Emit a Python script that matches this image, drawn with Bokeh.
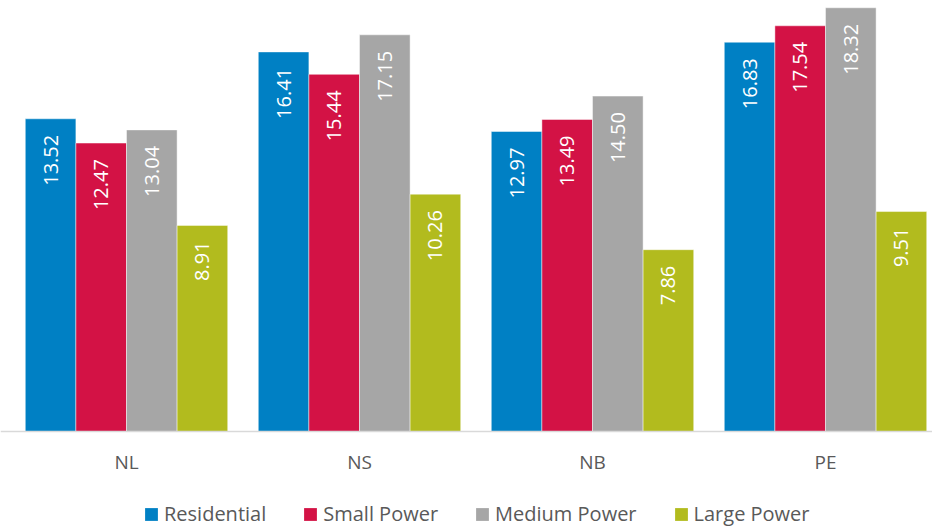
import math
from bokeh.plotting import figure
from bokeh.models import ColumnDataSource, Range1d, FixedTicker, Legend, LegendItem
from bokeh.core.properties import value
from bokeh.embed import file_html
from bokeh.resources import INLINE

categories = ["NL", "NS", "NB", "PE"]
series_names = ["Residential", "Small Power", "Medium Power", "Large Power"]
residential = [13.52, 16.41, 12.97, 16.83]
small_power = [12.47, 15.44, 13.49, 17.54]
medium_power = [13.04, 17.15, 14.50, 18.32]
large_power = [8.91, 10.26, 7.86, 9.51]
colors = ["#0080C4", "#D31245", "#A6A6A6", "#B2BB1E"]

series_values = [residential, small_power, medium_power, large_power]

FONT = "Open Sans"
BAR_W = 0.2172

p = figure(width=932, height=529, output_backend="svg", toolbar_location=None,
           x_range=Range1d(-9.5 / 233.0, 922.5 / 233.0), y_range=Range1d(-98 / 23.13, 431 / 23.13),
           min_border_left=0, min_border_right=0, min_border_top=0, min_border_bottom=0)
p.outline_line_color = None
p.xgrid.grid_line_color = None
p.ygrid.grid_line_color = None
p.yaxis.visible = False
p.background_fill_color = "white"
p.border_fill_color = "white"

legend_items = []
for k, (name, vals, col) in enumerate(zip(series_names, series_values, colors)):
    xs = [i + 0.5 + (k - 1.5) * BAR_W for i in range(len(categories))]
    src = ColumnDataSource(dict(x=xs, top=vals, label=["%.2f" % v for v in vals]))
    p.vbar(x="x", top="top", width=BAR_W, bottom=0, source=src,
           fill_color=col, line_color="white", line_alpha=0.45, line_width=1)
    p.text(x="x", y="top", text="label", source=src, angle=math.pi / 2,
           text_align="right", text_baseline="middle", y_offset=16,
           text_color="white", text_font=value(FONT), text_font_size="20px")
    # legend swatch renderer (no border), zero height so nothing shows in the plot area
    sw = p.vbar(x=[xs[0]], top=[0], width=BAR_W, bottom=0, fill_color=col, line_color=None)
    legend_items.append(LegendItem(label=name, renderers=[sw]))

ax = p.xaxis[0]
ax.fixed_location = 0
ax.ticker = FixedTicker(ticks=[i + 0.5 for i in range(len(categories))])
ax.major_label_overrides = {i + 0.5: c for i, c in enumerate(categories)}
ax.major_tick_line_color = None
ax.minor_tick_line_color = None
ax.axis_line_color = "#D9D9D9"
ax.axis_line_width = 1.5
ax.major_label_text_font = FONT
ax.major_label_text_font_size = "19px"
ax.major_label_text_color = "#595959"
ax.major_label_standoff = 11

legend = Legend(items=legend_items, orientation="horizontal", location=(143, 2),
                label_text_font=FONT, label_text_font_size="20px", label_text_color="#595959",
                glyph_width=16, glyph_height=16, label_standoff=5, spacing=36,
                border_line_alpha=0, background_fill_alpha=0, padding=0, margin=0)
p.add_layout(legend, "center")

open("out.html", "w").write(file_html(p, INLINE))
